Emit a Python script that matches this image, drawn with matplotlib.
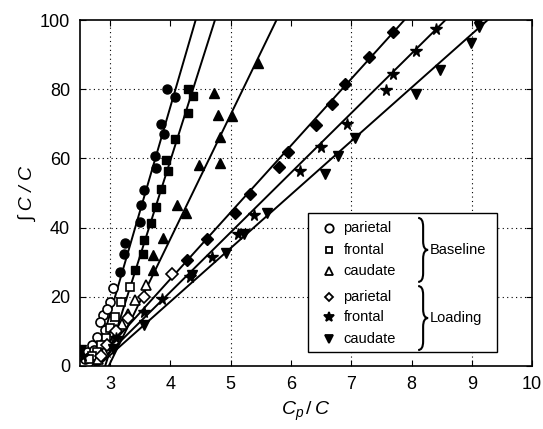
import numpy as np
import matplotlib
matplotlib.use('Agg')
import matplotlib.pyplot as plt
from matplotlib.path import Path
from matplotlib.patches import PathPatch, Rectangle

plt.rcParams['font.family'] = ['Liberation Sans', 'DejaVu Sans']
plt.rcParams['mathtext.fontset'] = 'custom'
plt.rcParams['mathtext.it'] = 'Liberation Sans:italic'
plt.rcParams['mathtext.rm'] = 'Liberation Sans'

# ---- data ----
# Baseline
bp_x = [3.16, 3.23, 3.25, 3.49, 3.52, 3.57, 3.74, 3.77, 3.84, 3.90, 3.95, 4.07]
bp_y = [27.2, 32.3, 35.6, 41.6, 46.5, 51.0, 60.6, 57.3, 70.0, 67.2, 80.0, 77.7]
bp_open_x = [3.05, 3.00, 2.88, 2.84, 2.78, 2.70, 2.62, 2.92, 2.95, 2.74, 2.66, 2.58, 2.82]
bp_open_y = [22.4, 18.6, 14.7, 12.8, 8.5, 6.0, 4.1, 10.5, 16.5, 4.5, 2.5, 2.0, 3.0]

bf_x = [3.42, 3.55, 3.56, 3.68, 3.76, 3.85, 3.93, 3.96, 4.07, 4.29, 4.29, 4.37]
bf_y = [27.7, 32.5, 36.4, 41.4, 46.0, 51.3, 59.6, 56.4, 65.5, 73.1, 80.1, 78.2]
bf_open_x = [3.34, 3.19, 3.09, 3.00, 2.93, 2.85, 2.78, 2.70, 2.65]
bf_open_y = [22.9, 18.6, 14.2, 11.0, 8.0, 6.0, 4.0, 3.0, 2.0]

bc_x = [3.72, 3.72, 3.88, 4.11, 4.26, 4.48, 4.83, 4.83, 4.73, 4.79, 5.02, 5.46]
bc_y = [27.7, 32.0, 36.9, 46.5, 44.2, 58.0, 58.7, 66.2, 78.9, 72.7, 72.4, 87.5]
bc_open_x = [3.59, 3.42, 3.30, 3.20, 3.10, 3.00, 2.90, 2.80]
bc_open_y = [23.4, 19.0, 15.0, 12.0, 9.0, 6.0, 4.0, 2.0]

# Loading
lp_x = [4.28, 4.61, 5.08, 5.33, 5.80, 5.96, 6.42, 6.68, 6.90, 7.30, 7.69]
lp_y = [30.6, 36.6, 44.2, 49.6, 57.5, 61.8, 69.8, 75.8, 81.6, 89.3, 96.5]
lp_open_x = [4.03, 3.57, 3.30, 3.10, 2.95, 2.85]
lp_open_y = [26.5, 19.8, 14.0, 10.0, 6.0, 3.0]

lf_x = [2.55, 3.10, 3.56, 3.86, 4.33, 4.69, 5.12, 5.38, 6.15, 6.50, 6.93, 7.57, 7.70, 8.07, 8.40]
lf_y = [3.0, 8.0, 15.5, 19.5, 25.8, 31.5, 38.3, 43.6, 56.4, 63.3, 70.0, 79.9, 84.3, 91.2, 97.4]

lc_x = [2.52, 3.05, 3.56, 4.36, 4.92, 5.23, 5.60, 6.57, 6.78, 7.07, 8.08, 8.48, 8.98, 9.10, 9.12]
lc_y = [4.5, 5.0, 11.8, 26.3, 32.7, 38.3, 44.2, 55.5, 60.6, 66.0, 78.7, 85.6, 93.5, 99.6, 97.9]

# fitted lines: x where line crosses y=0 and y=100
fit_y = [0, 100]
bp_fit = [2.75, 4.42]
bf_fit = [2.92, 4.74]
bc_fit = [2.98, 5.76]
lp_fit = [2.70, 7.88]
lf_fit = [2.76, 8.56]
lc_fit = [2.80, 9.26]

fig = plt.figure(figsize=(5.43, 4.29), dpi=100)
ax = fig.add_axes([0.147, 0.147, 0.833, 0.806])

# grid (dotted)
for gx in [3, 5, 7, 9]:
    ax.axvline(gx, color='k', lw=0.8, ls=(0, (1, 3)), zorder=0)
for gy in [20, 40, 60, 80]:
    ax.axhline(gy, color='k', lw=0.8, ls=(0, (1, 3)), zorder=0)

for fit in [bp_fit, bf_fit, bc_fit, lp_fit, lf_fit, lc_fit]:
    ax.plot(fit, fit_y, color='k', lw=1.4, zorder=2)

ms = 6.5
series = [
    (bp_x, bp_y, bp_open_x, bp_open_y, 'o', ms),
    (bf_x, bf_y, bf_open_x, bf_open_y, 's', ms - 0.5),
    (bc_x, bc_y, bc_open_x, bc_open_y, '^', ms + 0.5),
    (lp_x, lp_y, lp_open_x, lp_open_y, 'D', ms - 0.8),
]
for fx, fy, ox, oy, m, s in series:
    ax.plot(fx, fy, ls='none', marker=m, ms=s, mfc='k', mec='k', zorder=3)
    ax.plot(ox, oy, ls='none', marker=m, ms=s, mfc='white', mec='k', mew=1.2, zorder=3)
ax.plot(lf_x, lf_y, ls='none', marker='*', ms=ms + 2, mfc='k', mec='k', zorder=3)
ax.plot(lc_x, lc_y, ls='none', marker='v', ms=ms + 0.5, mfc='k', mec='k', zorder=3)

ax.set_xlim(2.5, 10)
ax.set_ylim(0, 100)
ax.set_xticks(range(3, 11))
ax.set_yticks(range(0, 101, 20))
ax.tick_params(direction='in', top=True, right=True, length=4, labelsize=13, pad=7)
for sp in ax.spines.values():
    sp.set_linewidth(1.2)

ax.set_xlabel(r'$C_p\,/\,C$', fontsize=14, labelpad=5)
ax.set_ylabel('\u222b C / C', fontsize=14, style='italic', labelpad=2)

# ---- hand-made legend ----
tr = ax.transAxes
ax.add_patch(Rectangle((0.504, 0.040), 0.419, 0.402, transform=tr, fill=True,
                       facecolor='white', edgecolor='k', lw=1.0, zorder=5))
leg_rows = [0.399, 0.335, 0.275, 0.199, 0.142, 0.078]
leg_marks = [('o', 'white', ms - 0.5), ('s', 'white', ms - 1.5), ('^', 'white', ms - 0.5),
             ('D', 'white', ms - 2), ('*', 'k', ms + 1), ('v', 'k', ms - 0.5)]
leg_names = ['parietal', 'frontal', 'caudate', 'parietal', 'frontal', 'caudate']
for yy, (m, fc, s), name in zip(leg_rows, leg_marks, leg_names):
    ax.plot([0.551], [yy], transform=tr, marker=m, mfc=fc, mec='k', mew=1.3, ms=s,
            ls='none', zorder=6, clip_on=False)
    ax.text(0.583, yy, name, transform=tr, fontsize=10.5, va='center', ha='left', zorder=6)


def brace(x0, yt, yb, w=0.011):
    ym = (yt + yb) / 2
    r = 0.025
    verts = [(x0, yt), (x0 + w, yt), (x0 + w, yt - r),
             (x0 + w, ym + r),
             (x0 + w, ym), (x0 + 2 * w, ym),
             (x0 + w, ym), (x0 + w, ym - r),
             (x0 + w, yb + r),
             (x0 + w, yb), (x0, yb)]
    codes = [Path.MOVETO, Path.CURVE3, Path.CURVE3, Path.LINETO,
             Path.CURVE3, Path.CURVE3, Path.CURVE3, Path.CURVE3,
             Path.LINETO, Path.CURVE3, Path.CURVE3]
    ax.add_patch(PathPatch(Path(verts, codes), transform=tr, fill=False,
                           lw=1.5, ec='k', zorder=6, clip_on=False))
    return ym


ym1 = brace(0.748, 0.428, 0.243)
ym2 = brace(0.748, 0.231, 0.046)
ax.text(0.774, ym1, 'Baseline', transform=tr, fontsize=10.5, va='center', zorder=6)
ax.text(0.774, ym2, 'Loading', transform=tr, fontsize=10.5, va='center', zorder=6)

fig.savefig('out.png', dpi=100)
